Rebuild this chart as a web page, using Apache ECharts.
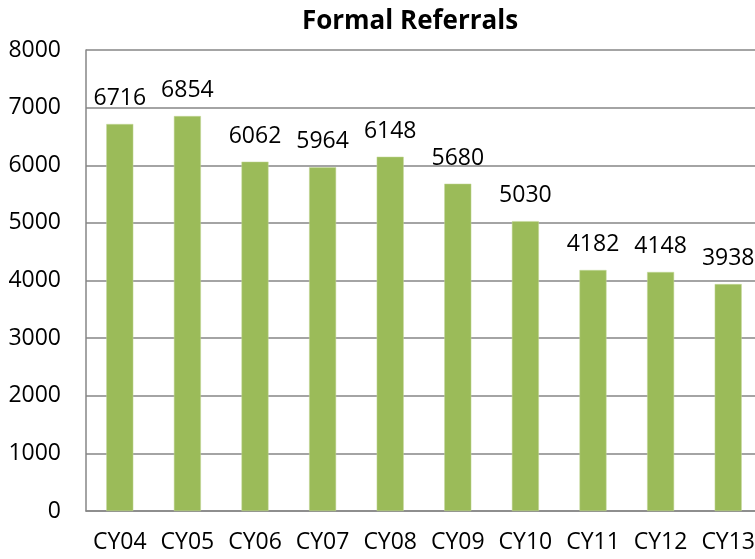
<!DOCTYPE html>
<html><head><meta charset="utf-8">
<script src="https://cdn.jsdelivr.net/npm/echarts@6/dist/echarts.min.js"></script>
<style>html,body{margin:0;padding:0;background:#fff;overflow:hidden;width:755px;height:559px}#c{width:775px;height:559px}</style>
</head><body><div id="c"></div>
<script>
const categories = ["CY04","CY05","CY06","CY07","CY08","CY09","CY10","CY11","CY12","CY13"];
const referrals = [6716,6854,6062,5964,6148,5680,5030,4182,4148,3938];
const yTicks = {min:0, max:8000, interval:1000};
const font = "'Open Sans', sans-serif";
const chart = echarts.init(document.getElementById('c'), null, {renderer:'canvas'});
chart.setOption({
  animation:false,
  title:{text:'Formal Referrals', left:405, top:4, textAlign:'center',
    textStyle:{fontFamily:font, fontWeight:'bold', fontSize:26, color:'#000'}},
  grid:{left:86, top:50, height:461, width:676, containLabel:false},
  xAxis:{type:'category', data:categories,
    axisLine:{lineStyle:{color:'#868686', width:1.5}},
    axisTick:{show:false},
    axisLabel:{fontFamily:font, fontSize:23, color:'#000', margin:20, interval:0}},
  yAxis:{type:'value', min:yTicks.min, max:yTicks.max, interval:yTicks.interval,
    axisLine:{show:true, lineStyle:{color:'#868686', width:1.5}},
    axisTick:{show:false},
    splitLine:{lineStyle:{color:'#868686', width:1.5}},
    axisLabel:{fontFamily:font, fontSize:23, color:'#000', margin:25, formatter:v => String(v)}},
  series:[{type:'bar', data:referrals, barWidth:27,
    itemStyle:{color:'#9BBB59', borderColor:'#C4D89A', borderWidth:0.5},
    label:{show:true, position:'top', distance:14, fontFamily:font, fontSize:23, color:'#000'}}]
});
</script></body></html>
